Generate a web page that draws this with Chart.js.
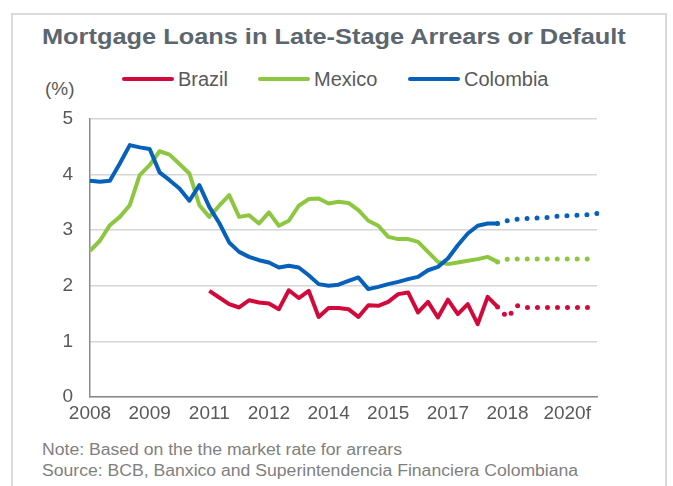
<!DOCTYPE html>
<html>
<head>
<meta charset="utf-8">
<script src="https://cdn.jsdelivr.net/npm/chart.js"></script>
<style>
  body { margin: 0; width: 673px; height: 486px; background: #fff; position: relative; overflow: hidden; font-family: "Liberation Sans", Arial, sans-serif; }
  .frame { position: absolute; left: 11px; top: 13px; width: 652px; height: 490px; border: 2px solid #dadada; }
  .title { position: absolute; left: 42px; top: 26px; font-size: 22.5px; line-height: 22px; font-weight: bold; color: #5b666e; white-space: nowrap; transform: scaleX(1.127); transform-origin: left top; }
  .leg-line { position: absolute; height: 4px; border-radius: 2px; top: 77px; width: 52px; }
  .leg-text { position: absolute; top: 69px; font-size: 20px; line-height: 20px; color: #595959; }
  .unit { position: absolute; left: 45px; top: 79px; font-size: 19px; line-height: 19px; color: #595959; }
  .note { position: absolute; left: 42px; font-size: 16px; line-height: 16px; color: #7f7f7f; white-space: nowrap; transform: scaleX(1.1); transform-origin: left top; }
  canvas { position: absolute; left: 0; top: 0; }
</style>
</head>
<body>
<div class="frame"></div>
<div class="title">Mortgage Loans in Late-Stage Arrears or Default</div>

<div class="leg-line" style="left:122px;background:#d20a3c"></div>
<div class="leg-text" style="left:178px">Brazil</div>
<div class="leg-line" style="left:258px;background:#8dc63f"></div>
<div class="leg-text" style="left:314px">Mexico</div>
<div class="leg-line" style="left:408px;background:#0760b9"></div>
<div class="leg-text" style="left:464px">Colombia</div>

<div class="unit">(%)</div>

<div class="note" style="top:442px">Note: Based on the the market rate for arrears</div>
<div class="note" style="top:463px">Source: BCB, Banxico and Superintendencia Financiera Colombiana</div>

<canvas id="chart" width="673" height="486"></canvas>

<script>
  // quarterly, 2008Q1 .. 2020Q4 (last 10 quarters are forecast)
  var quarters = [];
  for (var y = 2008; y <= 2020; y++) {
    for (var q = 1; q <= 4; q++) quarters.push(y + "Q" + q);
  }
  var yearLabels = ["2008", "2009", "2011", "2012", "2014", "2015", "2017", "2018", "2020f"];

  var brazil = [null, null, null, null, null, null, null, null, null, null, null, null,
    1.91, 1.79, 1.67, 1.61, 1.74, 1.70, 1.68, 1.58, 1.92, 1.78, 1.91, 1.44,
    1.60, 1.60, 1.58, 1.44, 1.65, 1.64, 1.71, 1.85, 1.88, 1.52, 1.71, 1.43,
    1.75, 1.49, 1.67, 1.31, 1.80, 1.62];
  var mexico = [2.63, 2.81, 3.09, 3.24, 3.45, 3.99, 4.17, 4.42, 4.36, 4.19, 4.02, 3.45,
    3.24, 3.44, 3.63, 3.24, 3.27, 3.12, 3.32, 3.08, 3.17, 3.44, 3.56, 3.57,
    3.48, 3.51, 3.49, 3.36, 3.17, 3.08, 2.88, 2.84, 2.84, 2.79, 2.61, 2.43,
    2.39, 2.42, 2.45, 2.48, 2.52, 2.43];
  var colombia = [3.89, 3.87, 3.89, 4.20, 4.53, 4.49, 4.46, 4.04, 3.90, 3.75, 3.53, 3.81,
    3.42, 3.13, 2.78, 2.61, 2.52, 2.46, 2.42, 2.33, 2.36, 2.33, 2.19, 2.03,
    2.00, 2.02, 2.09, 2.15, 1.94, 1.98, 2.03, 2.07, 2.12, 2.16, 2.28, 2.34,
    2.49, 2.73, 2.94, 3.08, 3.12, 3.12];

  // forecasts start from the last actual quarter (2018Q2)
  var brazilF   = [1.62, 1.43, 1.64, 1.61, 1.61, 1.61, 1.61, 1.61, 1.61, 1.61, 1.61];
  var mexicoF   = [2.43, 2.48, 2.48, 2.48, 2.48, 2.48, 2.48, 2.48, 2.48, 2.48, 2.48];
  var colombiaF = [3.12, 3.17, 3.20, 3.21, 3.22, 3.23, 3.25, 3.26, 3.27, 3.28, 3.30];

  var red = "#d20a3c", green = "#8dc63f", blue = "#0760b9";

  function pad(arr) {
    var out = [];
    for (var i = 0; i < quarters.length - arr.length; i++) out.push(null);
    return out.concat(arr);
  }

  function solid(data, color, order) {
    return { data: data, borderColor: color, borderWidth: 4, pointRadius: 0, tension: 0,
             borderJoinStyle: "round", order: order };
  }
  function dotted(data, color, order) {
    return { data: pad(data), borderColor: color, borderWidth: 5, pointRadius: 0, tension: 0,
             borderDash: [0, 10], borderCapStyle: "round", order: order };
  }

  var tickFont = { family: "'Liberation Sans', Arial, sans-serif", size: 19 };

  new Chart(document.getElementById("chart"), {
    type: "line",
    data: {
      labels: quarters,
      datasets: [
        solid(colombia, blue, 0),
        solid(mexico, green, 1),
        solid(brazil, red, 2),
        dotted(colombiaF, blue, 3),
        dotted(mexicoF, green, 4),
        dotted(brazilF, red, 5)
      ]
    },
    options: {
      responsive: false,
      animation: false,
      layout: { padding: { left: 50, right: 76, top: 119, bottom: 40 } },
      plugins: { legend: { display: false }, tooltip: { enabled: false } },
      scales: {
        x: {
          offset: false,
          grid: { display: false, drawTicks: false },
          border: { color: "#8a8a8a", width: 1.5 },
          afterFit: function (s) { s.height = 486 - 397 - 40; },
          ticks: {
            autoSkip: false, maxRotation: 0, padding: 5, color: "#595959", font: tickFont,
            callback: function (v, i) { return i % 6 === 0 ? yearLabels[i / 6] : ""; }
          }
        },
        y: {
          min: 0, max: 5,
          grid: { color: "#d6d6d6", lineWidth: 1.5, drawTicks: false },
          border: { color: "#8a8a8a", width: 1.5 },
          afterFit: function (s) { s.width = 40; },
          ticks: { stepSize: 1, padding: 17, color: "#595959", font: tickFont }
        }
      }
    }
  });
</script>
</body>
</html>
